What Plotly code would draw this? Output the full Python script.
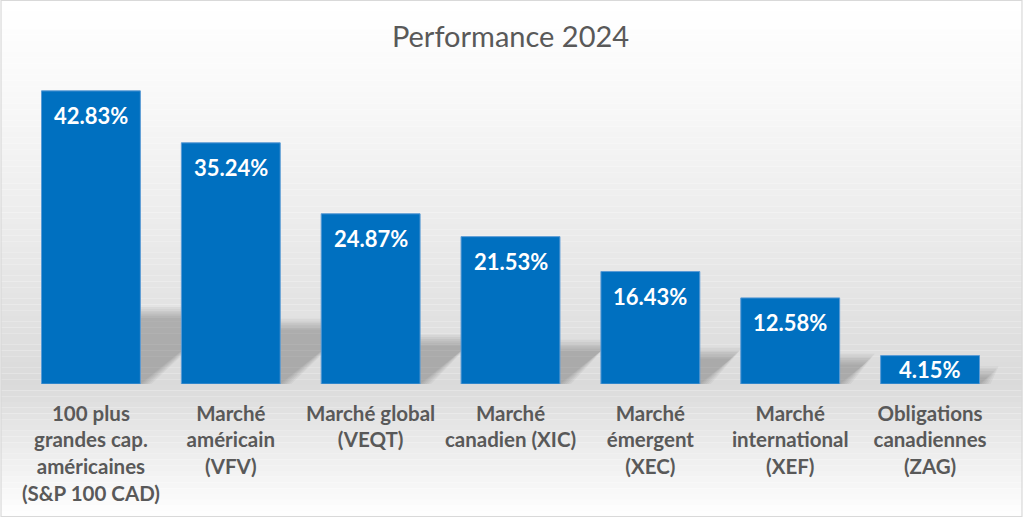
import plotly.graph_objects as go

categories = [
    "100 plus<br>grandes cap.<br>américaines<br>(S&P 100 CAD)",
    "Marché<br>américain<br>(VFV)",
    "Marché global<br>(VEQT)",
    "Marché<br>canadien (XIC)",
    "Marché<br>émergent<br>(XEC)",
    "Marché<br>international<br>(XEF)",
    "Obligations<br>canadiennes<br>(ZAG)",
]
values = [42.83, 35.24, 24.87, 21.53, 16.43, 12.58, 4.15]
title_text = "Performance 2024"

BAR = "#0070C0"
GRAY = "#595959"
FONT = "Lato"

W, H = 1023, 517
M_L, M_R, M_T, M_B = 20.5, 22.5, 76, 133
PW = W - M_L - M_R
PH = H - M_T - M_B
YMAX = 45
BARW = 0.707
px_per_unit = PH / YMAX
px_per_cat = PW / len(categories)

fig = go.Figure()
fig.add_trace(go.Bar(
    x=list(range(len(categories))),
    y=values,
    marker=dict(color=BAR, line=dict(color="#5B9BD5", width=1)),
    width=BARW,
    hoverinfo="skip",
))

for i, v in enumerate(values):
    hpx = v * px_per_unit
    off = min(25, hpx / 2)
    fig.add_annotation(
        x=i, y=v, xref="x", yref="y",
        text=f"<b>{v:.2f}%</b>", showarrow=False,
        yanchor="middle", yshift=-off,
        font=dict(family=FONT, size=22, color="white"),
    )

shapes = []
# background gradient (white -> light gray at baseline -> white)
n = 90
base_px = M_T + PH
for k in range(n):
    y0 = H * k / n
    y1 = H * (k + 1) / n
    ym = (y0 + y1) / 2
    if ym <= base_px:
        g = 255 - 37 * (ym / base_px) ** 1.2
    else:
        g = 218 + 37 * ((ym - base_px) / (H - base_px))
    g = int(round(g))
    shapes.append(dict(
        type="rect", xref="paper", yref="paper", layer="below",
        x0=-M_L / PW, x1=1 + M_R / PW,
        y0=(base_px - y1) / PH, y1=(base_px - y0) / PH,
        line=dict(width=0), fillcolor=f"rgb({g},{g},{g})",
    ))

# perspective shadows behind bars (soft, layered)
for i, v in enumerate(values):
    hpx = v * px_per_unit
    s_u = 0.225 * v
    dx_u = 0.28 * hpx / px_per_cat
    xl = i - BARW / 2
    xr = i + BARW / 2
    for k in range(6):
        e = (5 - k) * 2.2  # px expansion for blur
        ex = e / px_per_cat
        ey = e / px_per_unit
        path = (f"M {xl:.4f},0 L {xr + ex:.4f},0 "
                f"L {xr + dx_u + ex:.4f},{s_u + ey:.4f} "
                f"L {xl + dx_u:.4f},{s_u + ey:.4f} Z")
        shapes.append(dict(
            type="path", xref="x", yref="y", layer="below", path=path,
            line=dict(width=0), fillcolor="rgba(60,60,60,0.055)",
        ))

# chart border
shapes.append(dict(
    type="rect", xref="paper", yref="paper", layer="above",
    x0=-(M_L - 0.5) / PW, x1=1 + (M_R - 0.5) / PW,
    y0=-(M_B - 0.5) / PH, y1=1 + (M_T - 0.5) / PH,
    line=dict(color="#D9D9D9", width=1.2), fillcolor="rgba(0,0,0,0)",
))

fig.update_layout(
    width=W, height=H,
    margin=dict(l=M_L, r=M_R, t=M_T, b=M_B),
    paper_bgcolor="white", plot_bgcolor="rgba(0,0,0,0)",
    showlegend=False,
    title=dict(text=title_text, x=0.5, xref="paper", xanchor="center",
               y=1 - 37 / H, yanchor="middle",
               font=dict(family=FONT, size=29, color=GRAY)),
    xaxis=dict(
        tickmode="array", tickvals=list(range(len(categories))),
        ticktext=[f"<b>{c}</b>" for c in categories],
        tickfont=dict(family=FONT, size=20.5, color=GRAY),
        showgrid=False, zeroline=False, showline=False,
        ticks="outside", ticklen=11, tickcolor="rgba(0,0,0,0)",
        range=[-0.5, len(categories) - 0.5], fixedrange=True,
    ),
    yaxis=dict(range=[0, YMAX], visible=False, fixedrange=True),
    shapes=shapes,
)

fig.write_html("out.html", config={"displayModeBar": False},
               post_script="document.body.style.margin='0';")
